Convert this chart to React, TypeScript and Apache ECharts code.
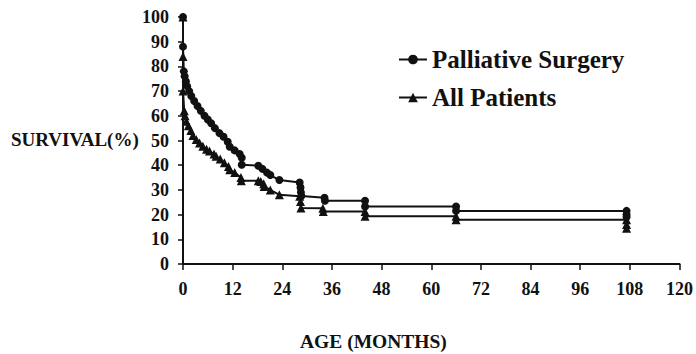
import React, { useEffect, useRef } from "react";
import * as echarts from "echarts";

const xTicks = [0, 12, 24, 36, 48, 60, 72, 84, 96, 108, 120];
const yTicks = [0, 10, 20, 30, 40, 50, 60, 70, 80, 90, 100];

const palliativeMonths = [
  0, 0, 0.2, 0.4, 0.7, 1, 1.5, 2, 2.7, 3.5, 4.3, 5.2, 6, 6.8, 7.7, 8.8, 9.8, 10.8, 11.3, 12.5, 13.7,
  14.2, 14.2, 18.2, 19.2, 20.3, 21.1, 23.3, 28.2, 28.4, 28.5, 28.6, 34.2, 34.3, 44, 44, 66, 66, 107.2,
  107.2, 107.2,
];
const palliativeSurvival = [
  100, 88, 78, 76, 74, 72, 70, 68, 66, 64, 62, 60, 58.5, 57, 55, 53, 51.5, 49.5, 47.5, 46, 44.5, 43,
  40.2, 39.8, 38.5, 37, 36, 34, 33, 31, 29, 27.5, 26.8, 25.6, 25.6, 23.3, 23.3, 21.5, 21.5, 20, 19,
];

const allMonths = [
  0, 0, 0, 0.3, 0.5, 0.8, 1.3, 1.9, 2.4, 3.2, 4, 4.8, 5.7, 6.4, 7.5, 8, 9, 10, 11, 11.3, 12.5, 14,
  14.1, 18.2, 18.8, 19.5, 19.6, 21.1, 23.3, 28.2, 28.4, 28.5, 33.8, 33.9, 44, 44, 66, 66, 107.2, 107.2,
  107.2,
];
const allSurvival = [
  100, 84, 70, 62, 60, 57.8, 56, 54, 52, 50.4, 49, 47.7, 46.5, 45.7, 44.5, 43.6, 42.5, 41, 39.5, 38.2,
  37, 35, 33.7, 33.7, 33.4, 32.5, 31.4, 30, 28, 27.4, 25.3, 22.7, 22.6, 21.3, 21.3, 19.3, 19.3, 17.9,
  17.9, 16, 14.5,
];

const FONT = "'Liberation Serif', 'Times New Roman', 'DejaVu Serif', serif";
const INK = "#111";

export default function App() {
  const ref = useRef<HTMLDivElement>(null);
  useEffect(() => {
    if (!ref.current) return;
    const chart = echarts.init(ref.current, null, { renderer: "svg" });
    const pal = palliativeMonths.map((m, i) => [m, palliativeSurvival[i]]);
    const all = allMonths.map((m, i) => [m, allSurvival[i]]);
    const labelStyle = { fontFamily: FONT, fontWeight: "bold" as const, fontSize: 18, color: INK };
    const legendText = { fontFamily: FONT, fontWeight: "bold" as const, fontSize: 25, color: INK };
    chart.setOption({
      animation: false,
      backgroundColor: "#fff",
      grid: { left: 183, right: 16, top: 17, bottom: 90 },
      xAxis: {
        type: "value",
        min: xTicks[0],
        max: xTicks[xTicks.length - 1],
        interval: 12,
        splitLine: { show: false },
        axisLine: { lineStyle: { color: INK, width: 2 } },
        axisTick: { show: true, length: 6, lineStyle: { color: INK, width: 1.5 } },
        axisLabel: { ...labelStyle, margin: 16 },
      },
      yAxis: {
        type: "value",
        min: yTicks[0],
        max: yTicks[yTicks.length - 1],
        interval: 10,
        splitLine: { show: false },
        axisLine: { show: true, lineStyle: { color: INK, width: 2 } },
        axisTick: { show: true, length: 5, lineStyle: { color: INK, width: 1.5 } },
        axisLabel: { ...labelStyle, margin: 14 },
      },
      legend: [
        {
          data: ["Palliative Surgery"],
          left: 393,
          top: 42,
          itemWidth: 28,
          itemHeight: 12,
          itemGap: 6,
          textStyle: legendText,
        },
        {
          data: ["All Patients"],
          left: 393,
          top: 80,
          itemWidth: 28,
          itemHeight: 12,
          itemGap: 6,
          textStyle: legendText,
        },
      ],
      graphic: [
        {
          type: "text",
          left: 11,
          top: 130,
          style: { text: "SURVIVAL(%)", font: `bold 19px ${FONT}`, fill: INK },
        },
        {
          type: "text",
          left: 300,
          top: 331,
          style: { text: "AGE (MONTHS)", font: `bold 19.5px ${FONT}`, fill: INK },
        },
      ],
      series: [
        {
          name: "Palliative Surgery",
          type: "line",
          data: pal,
          symbol: "circle",
          symbolSize: 8,
          lineStyle: { color: INK, width: 2 },
          itemStyle: { color: INK },
        },
        {
          name: "All Patients",
          type: "line",
          data: all,
          symbol: "triangle",
          symbolSize: 9,
          lineStyle: { color: INK, width: 2 },
          itemStyle: { color: INK },
        },
      ],
    });
    return () => chart.dispose();
  }, []);
  return (
    <div
      ref={ref}
      style={{ position: "absolute", left: 0, top: 0, width: 696, height: 354 }}
    />
  );
}
